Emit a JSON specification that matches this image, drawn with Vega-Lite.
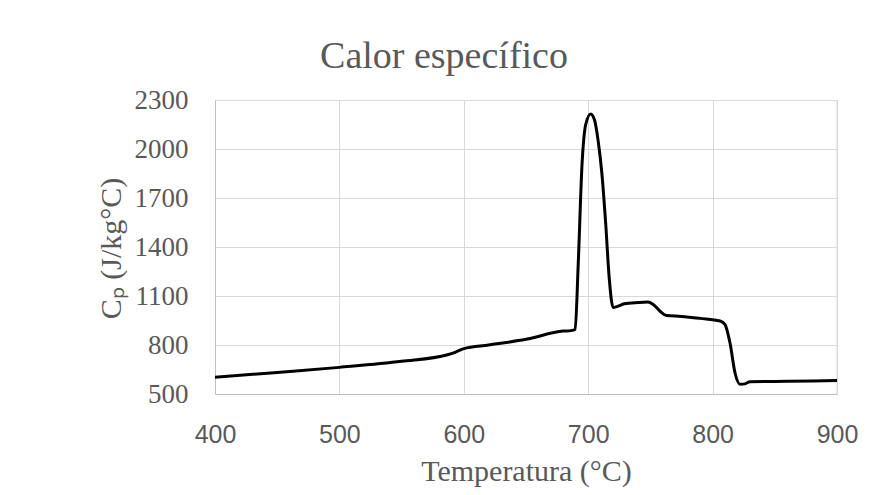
{
  "$schema": "https://vega.github.io/schema/vega-lite/v6.json",
  "width": 622,
  "height": 294,
  "autosize": {"type": "none"},
  "padding": {"left": 215, "top": 100, "right": 33, "bottom": 101},
  "background": "white",
  "title": {
    "text": "Calor específico",
    "font": "Liberation Serif",
    "fontSize": 38,
    "fontWeight": "normal",
    "color": "#595959",
    "frame": "group",
    "anchor": "middle",
    "baseline": "alphabetic",
    "dx": -82,
    "dy": 40,
    "offset": 20
  },
  "config": {
    "view": {"stroke": null},
    "axis": {"gridColor": "#d9d9d9", "gridWidth": 1, "domainColor": "#bfbfbf", "domainWidth": 1, "ticks": false}
  },
  "data": {
    "values": [
      {"T": 400, "cp": 602},
      {"T": 450, "cp": 632},
      {"T": 500, "cp": 663},
      {"T": 550, "cp": 700},
      {"T": 587, "cp": 740},
      {"T": 593, "cp": 755},
      {"T": 600, "cp": 778},
      {"T": 620, "cp": 800},
      {"T": 650, "cp": 835},
      {"T": 680, "cp": 885},
      {"T": 686, "cp": 888},
      {"T": 689.5, "cp": 895},
      {"T": 692, "cp": 1300},
      {"T": 695, "cp": 1900},
      {"T": 698, "cp": 2150},
      {"T": 702, "cp": 2215},
      {"T": 705, "cp": 2180},
      {"T": 708, "cp": 2050},
      {"T": 711, "cp": 1850},
      {"T": 714, "cp": 1550},
      {"T": 717, "cp": 1200},
      {"T": 720, "cp": 1030},
      {"T": 723, "cp": 1035},
      {"T": 729, "cp": 1052},
      {"T": 740, "cp": 1060},
      {"T": 748, "cp": 1063},
      {"T": 752, "cp": 1050},
      {"T": 758, "cp": 1005},
      {"T": 763, "cp": 980},
      {"T": 775, "cp": 975},
      {"T": 790, "cp": 963},
      {"T": 806, "cp": 947},
      {"T": 810, "cp": 925},
      {"T": 814, "cp": 812},
      {"T": 818, "cp": 630},
      {"T": 822, "cp": 560},
      {"T": 826, "cp": 562},
      {"T": 830, "cp": 575},
      {"T": 860, "cp": 578},
      {"T": 900, "cp": 582}
    ]
  },
  "layer": [
    {
      "mark": {"type": "rule", "color": "#d9d9d9", "strokeWidth": 1},
      "data": {"values": [{"x": 900}]},
      "encoding": {"x": {"field": "x", "type": "quantitative", "scale": {"domain": [400, 900]}}}
    },
    {
      "mark": {"type": "line", "color": "black", "strokeWidth": 3, "interpolate": "monotone"},
      "encoding": {
        "x": {
          "field": "T",
          "type": "quantitative",
          "scale": {"domain": [400, 900], "nice": false, "zero": false},
          "axis": {
            "values": [400, 500, 600, 700, 800, 900],
            "format": "d",
            "title": "Temperatura (°C)",
            "labelFont": "Liberation Sans",
            "labelFontSize": 25,
            "labelColor": "#595959",
            "labelPadding": 28,
            "labelFlush": false,
            "titleFont": "Liberation Serif",
            "titleFontSize": 30,
            "titleFontWeight": "normal",
            "titleColor": "#595959",
            "titleBaseline": "alphabetic",
            "titleX": 311,
            "titleY": 86
          }
        },
        "y": {
          "field": "cp",
          "type": "quantitative",
          "scale": {"domain": [500, 2300], "nice": false, "zero": false},
          "axis": {
            "values": [500, 800, 1100, 1400, 1700, 2000, 2300],
            "format": "d",
            "title": "Cₚ (J/kg°C)",
            "labelFont": "Liberation Serif",
            "labelFontSize": 27,
            "labelColor": "#595959",
            "labelPadding": 27,
            "labelFlush": false,
            "titleFont": "Liberation Serif",
            "titleFontSize": 30,
            "titleFontWeight": "normal",
            "titleColor": "#595959",
            "titleBaseline": "alphabetic",
            "titleAngle": 270,
            "titleX": -95,
            "titleY": 148
          }
        }
      }
    }
  ]
}
